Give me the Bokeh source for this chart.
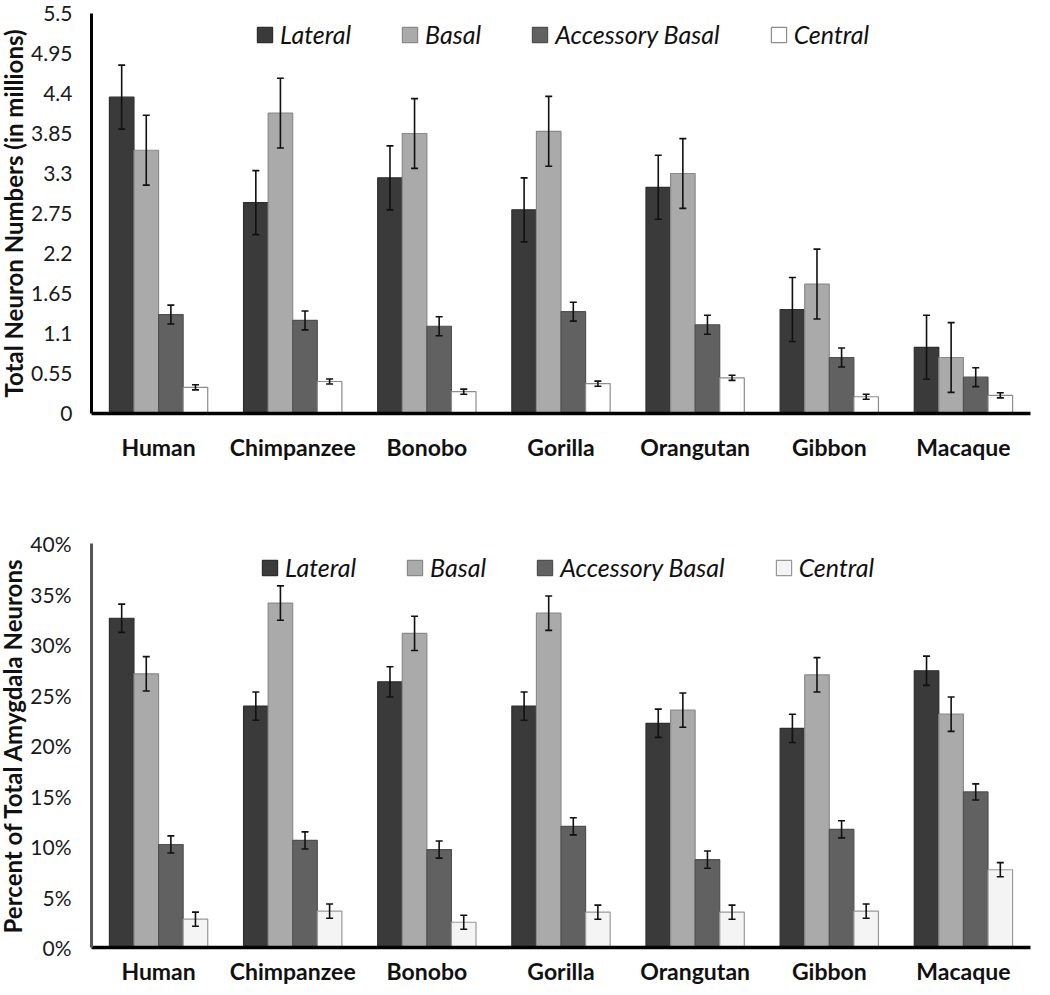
from bokeh.plotting import figure
from bokeh.layouts import column
from bokeh.models import (ColumnDataSource, FactorRange, Range1d, FixedTicker, Whisker,
                          TeeHead, Legend, LegendItem)
from bokeh.transform import dodge
from bokeh.embed import file_html
from bokeh.resources import INLINE

species = ["Human", "Chimpanzee", "Bonobo", "Gorilla", "Orangutan", "Gibbon", "Macaque"]
nuclei = ["Lateral", "Basal", "Accessory Basal", "Central"]

# Top chart: total neuron numbers (millions)
total_lateral = [4.35, 2.90, 3.24, 2.80, 3.11, 1.43, 0.91]
total_basal = [3.62, 4.13, 3.85, 3.88, 3.30, 1.78, 0.77]
total_accessory = [1.36, 1.28, 1.20, 1.40, 1.22, 0.77, 0.50]
total_central = [0.36, 0.44, 0.30, 0.41, 0.49, 0.23, 0.25]
total_err_lateral = [0.44, 0.44, 0.44, 0.44, 0.44, 0.44, 0.44]
total_err_basal = [0.48, 0.48, 0.48, 0.48, 0.48, 0.48, 0.48]
total_err_accessory = [0.13, 0.13, 0.13, 0.13, 0.13, 0.13, 0.13]
total_err_central = [0.035, 0.035, 0.035, 0.035, 0.035, 0.035, 0.035]
total_tick_labels = ["0", "0.55", "1.1", "1.65", "2.2", "2.75", "3.3", "3.85", "4.4", "4.95", "5.5"]

# Bottom chart: percent of total amygdala neurons
pct_lateral = [32.6, 23.9, 26.3, 23.9, 22.2, 21.7, 27.4]
pct_basal = [27.1, 34.1, 31.1, 33.1, 23.5, 27.0, 23.1]
pct_accessory = [10.2, 10.6, 9.7, 12.0, 8.7, 11.7, 15.4]
pct_central = [2.8, 3.6, 2.5, 3.5, 3.5, 3.6, 7.7]
pct_err_lateral = [1.4, 1.4, 1.5, 1.4, 1.4, 1.4, 1.45]
pct_err_basal = [1.7, 1.7, 1.7, 1.7, 1.7, 1.7, 1.7]
pct_err_accessory = [0.85, 0.85, 0.85, 0.85, 0.85, 0.85, 0.8]
pct_err_central = [0.7, 0.7, 0.7, 0.7, 0.7, 0.7, 0.7]
pct_tick_labels = ["0%", "5%", "10%", "15%", "20%", "25%", "30%", "35%", "40%"]

OFFSETS = [-0.275, -0.0917, 0.0917, 0.275]
BAR_W = 0.183
FONT = "Lato"


def make_chart(values, errors, tick_values, tick_labels, ymax, ylabel, fills, lines,
               height, b_top, b_bottom, b_left, yaxis_color, legend_loc, label_standoff,
               ystandoff):
    p = figure(x_range=FactorRange(*species, range_padding=0), y_range=Range1d(0, ymax),
               width=1050, height=height, output_backend="svg", toolbar_location=None,
               min_border_left=b_left, min_border_right=15, min_border_top=b_top,
               min_border_bottom=b_bottom)
    p.outline_line_color = None
    p.xgrid.visible = False
    p.ygrid.visible = False
    p.background_fill_color = "white"

    data = {"species": species}
    for i, n in enumerate(nuclei):
        data["v%d" % i] = values[i]
        data["lo%d" % i] = [v - e for v, e in zip(values[i], errors[i])]
        data["hi%d" % i] = [v + e for v, e in zip(values[i], errors[i])]
    src = ColumnDataSource(data)

    items = []
    for i, n in enumerate(nuclei):
        r = p.vbar(x=dodge("species", OFFSETS[i], range=p.x_range), top="v%d" % i,
                   width=BAR_W, source=src, fill_color=fills[i], line_color=lines[i],
                   line_width=1.2)
        items.append(LegendItem(label=n, renderers=[r]))
    for i, n in enumerate(nuclei):
        w = Whisker(base=dodge("species", OFFSETS[i], range=p.x_range),
                    upper="hi%d" % i, lower="lo%d" % i, source=src, level="overlay",
                    line_color="#111111", line_width=1.6,
                    upper_head=TeeHead(size=7, line_color="#111111", line_width=1.6),
                    lower_head=TeeHead(size=7, line_color="#111111", line_width=1.6))
        p.add_layout(w)

    # axes
    p.xaxis.major_tick_line_color = None
    p.xaxis.minor_tick_line_color = None
    p.xaxis.axis_line_color = "black"
    p.xaxis.axis_line_width = 3.5
    p.xaxis.major_label_text_font = FONT
    p.xaxis.major_label_text_font_style = "bold"
    p.xaxis.major_label_text_font_size = "23px"
    p.xaxis.major_label_text_color = "#111111"
    p.xaxis.major_label_standoff = label_standoff

    p.yaxis.ticker = FixedTicker(ticks=tick_values)
    p.yaxis.major_label_overrides = dict(zip(tick_values, tick_labels))
    p.yaxis.major_tick_line_color = None
    p.yaxis.minor_tick_line_color = None
    p.yaxis.axis_line_color = yaxis_color
    p.yaxis.axis_line_width = 3
    p.yaxis.major_label_text_font = FONT
    p.yaxis.major_label_text_font_size = "21px"
    p.yaxis.major_label_text_color = "#1a1a1a"
    p.yaxis.major_label_standoff = ystandoff
    p.yaxis.axis_label = ylabel
    p.yaxis.axis_label_text_font = FONT
    p.yaxis.axis_label_text_font_style = "bold"
    p.yaxis.axis_label_text_font_size = "24px"
    p.yaxis.axis_label_text_color = "#111111"
    p.yaxis.axis_label_standoff = 0

    legend = Legend(items=items, orientation="horizontal", location=legend_loc,
                    border_line_color=None, background_fill_alpha=0, padding=0, margin=0,
                    spacing=49, glyph_width=19, glyph_height=19, label_standoff=6,
                    label_text_font=FONT, label_text_font_style="italic",
                    label_text_font_size="25px", label_text_color="#111111")
    p.add_layout(legend)
    return p


p1 = make_chart([total_lateral, total_basal, total_accessory, total_central],
                [total_err_lateral, total_err_basal, total_err_accessory, total_err_central],
                [float(t) for t in total_tick_labels], total_tick_labels, 5.5,
                "Total Neuron Numbers (in millions)",
                ["#3a3a3a", "#aaaaaa", "#616161", "#ffffff"],
                ["#2e2e2e", "#8a8a8a", "#505050", "#8c8c8c"],
                490, 13, 77, 92, "black", (164, 364), 13, 13)

p2 = make_chart([pct_lateral, pct_basal, pct_accessory, pct_central],
                [pct_err_lateral, pct_err_basal, pct_err_accessory, pct_err_central],
                [float(t.rstrip("%")) for t in pct_tick_labels], pct_tick_labels, 40,
                "Percent of Total Amygdala Neurons",
                ["#3a3a3a", "#aaaaaa", "#616161", "#f4f4f4"],
                ["#2e2e2e", "#8a8a8a", "#505050", "#999999"],
                497, 53, 40, 96, "#555555", (169, 365), 3, 14)

layout = column(p1, p2, styles={"margin-left": "-5px"})

open("out.html", "w").write(file_html(layout, INLINE))
